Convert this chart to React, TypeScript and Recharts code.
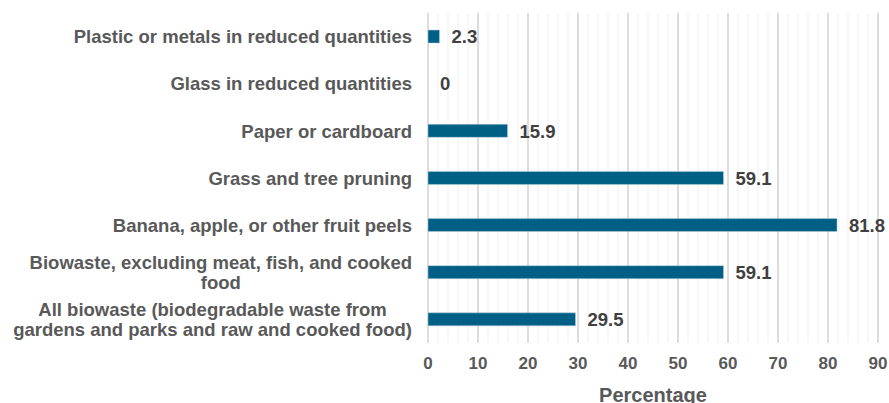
import React from "react";
import { ComposedChart, Bar, Scatter, XAxis, YAxis, CartesianGrid, LabelList, Label } from "recharts";

const categories = [
  "Plastic or metals in reduced quantities",
  "Glass in reduced quantities",
  "Paper or cardboard",
  "Grass and tree pruning",
  "Banana, apple, or other fruit peels",
  "Biowaste, excluding meat, fish, and cooked food",
  "All biowaste (biodegradable waste from gardens and parks and raw and cooked food)",
];
const percentages = [2.3, 0, 15.9, 59.1, 81.8, 59.1, 29.5];
const majorTicks = [0, 10, 20, 30, 40, 50, 60, 70, 80, 90];
const minorTicks = Array.from({ length: 46 }, (_, i) => i * 2);

const data = categories.map((name, i) => ({ name, value: percentages[i] }));

const FONT = '"Liberation Sans", Arial, sans-serif';
const LABEL_FONT = `bold 18.5px ${FONT}`;
const WRAP_WIDTH = 408;

let ctx: CanvasRenderingContext2D | null = null;
function measure(s: string) {
  if (!ctx) ctx = document.createElement("canvas").getContext("2d");
  if (!ctx) return s.length * 10;
  ctx.font = LABEL_FONT;
  return ctx.measureText(s).width;
}

function wrap(text: string) {
  const words = text.split(" ");
  const lines: string[] = [];
  let cur = "";
  for (const w of words) {
    const next = cur ? cur + " " + w : w;
    if (cur && measure(next) > WRAP_WIDTH) {
      lines.push(cur);
      cur = w;
    } else cur = next;
  }
  if (cur) lines.push(cur);
  return lines;
}

// right-aligned block, lines centred inside it
function CategoryTick(props: any) {
  const { x, y, payload } = props;
  const lines = wrap(String(payload.value));
  const block = Math.max(...lines.map(measure));
  const cx = x - block / 2;
  const lh = 20;
  const y0 = y - ((lines.length - 1) * lh) / 2;
  return (
    <text textAnchor="middle" fill="#595959" style={{ font: LABEL_FONT }}>
      {lines.map((l, i) => (
        <tspan key={i} x={cx} y={y0 + i * lh} dy="0.36em">
          {l}
        </tspan>
      ))}
    </text>
  );
}

// value label placed just right of the bar end (the scatter point sits at the bar end)
function ValueLabel(props: any) {
  const { x, y, width, height, value } = props;
  const cx = Number(x) + Number(width || 0) / 2;
  const cy = Number(y) + Number(height || 0) / 2;
  return (
    <text x={cx + 12} y={cy} dy="0.36em" fill="#404040" style={{ font: LABEL_FONT }}>
      {value}
    </text>
  );
}

function minorLines(props: any) {
  const s = props.xAxis?.scale;
  const { offset } = props;
  return minorTicks.map((v) =>
    typeof s === "function" ? s(v) : offset.left + (v / 90) * offset.width
  );
}

export default function App() {
  return (
    <div style={{ position: "absolute", left: 0, top: 0, fontFamily: FONT }}>
      <ComposedChart
        width={889}
        height={403}
        data={data}
        layout="vertical"
        margin={{ top: 13, right: 11, bottom: 0, left: 0 }}
      >
        <CartesianGrid
          horizontal={false}
          stroke="#efefef"
          strokeWidth={1}
          verticalCoordinatesGenerator={minorLines}
        />
        <CartesianGrid horizontal={false} stroke="#d4d4d4" strokeWidth={1.5} />
        <XAxis
          type="number"
          domain={[0, 90]}
          ticks={majorTicks}
          axisLine={false}
          tickLine={false}
          tickSize={0}
          tickMargin={14}
          height={60}
          tick={{ fill: "#595959", fontSize: 17, fontWeight: "bold", fontFamily: FONT }}
        >
          <Label
            value="Percentage"
            position="insideBottom"
            offset={1}
            style={{ fill: "#595959", fontSize: 20, fontWeight: "bold", fontFamily: FONT }}
          />
        </XAxis>
        <YAxis
          type="category"
          dataKey="name"
          width={428}
          axisLine={false}
          tickLine={false}
          tickSize={0}
          tickMargin={16}
          interval={0}
          tick={<CategoryTick />}
        />
        <Bar dataKey="value" fill="#005f85" stroke="#b9d3df" strokeWidth={0.5} barSize={13} isAnimationActive={false} />
        <Scatter dataKey="value" shape={() => <g />} isAnimationActive={false}>
          <LabelList dataKey="value" content={<ValueLabel />} />
        </Scatter>
      </ComposedChart>
    </div>
  );
}
